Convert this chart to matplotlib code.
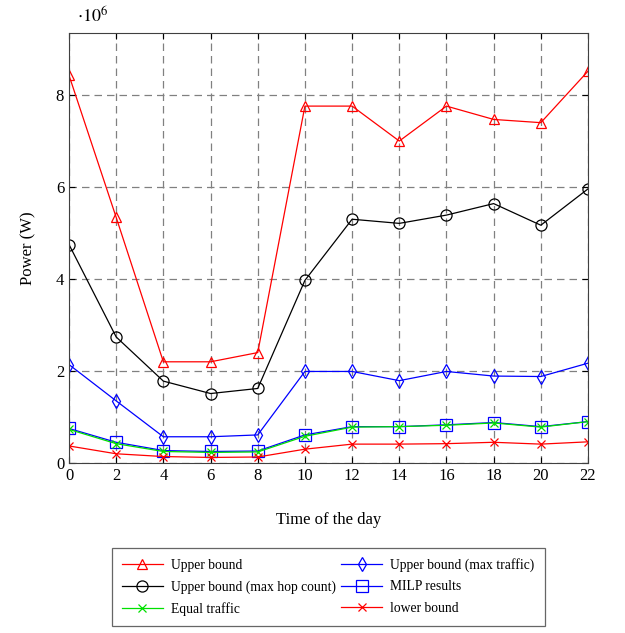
import matplotlib.pyplot as plt
import matplotlib.ticker as mticker
import numpy as np

plt.rcParams['font.family'] = ['Liberation Serif', 'DejaVu Serif']
plt.rcParams['mathtext.fontset'] = 'stix'

hours = [0, 2, 4, 6, 8, 10, 12, 14, 16, 18, 20, 22]
upper = [8.43, 5.34, 2.2, 2.2, 2.4, 7.76, 7.76, 7.0, 7.76, 7.47, 7.4, 8.52]
upper_hop = [4.75, 2.74, 1.78, 1.51, 1.62, 3.97, 5.30, 5.21, 5.39, 5.64, 5.17, 5.96]
upper_traffic = [2.14, 1.35, 0.57, 0.57, 0.61, 1.99, 1.99, 1.79, 1.99, 1.89, 1.88, 2.17]
milp = [0.75, 0.45, 0.27, 0.25, 0.26, 0.61, 0.79, 0.79, 0.83, 0.88, 0.79, 0.90]
equal = [0.73, 0.42, 0.25, 0.23, 0.24, 0.58, 0.78, 0.79, 0.82, 0.87, 0.78, 0.90]
lower = [0.37, 0.20, 0.14, 0.12, 0.13, 0.30, 0.41, 0.41, 0.42, 0.45, 0.41, 0.46]

scale = 1e6
fig = plt.figure(figsize=(6.25, 6.33), dpi=100)
ax = fig.add_axes([0.1104, 0.2686, 0.8304, 0.6793])

kw = dict(lw=0.9, markerfacecolor='none', markeredgewidth=0.9)
h_ub, = ax.plot(hours, np.array(upper) * scale, color='red', marker='^', ms=7, label='Upper bound', **kw)
h_tr, = ax.plot(hours, np.array(upper_traffic) * scale, color='blue', marker='d', ms=7, label='Upper bound (max traffic)', **kw)
h_hop, = ax.plot(hours, np.array(upper_hop) * scale, color='black', marker='o', ms=8, label='Upper bound (max hop count)', **kw)
h_milp, = ax.plot(hours, np.array(milp) * scale, color='blue', marker='s', ms=8, label='MILP results', **kw)
h_eq, = ax.plot(hours, np.array(equal) * scale, color='#00e000', marker='x', ms=6, label='Equal traffic', **kw)
h_lo, = ax.plot(hours, np.array(lower) * scale, color='red', marker='x', ms=6, label='lower bound', **kw)

ax.set_xlim(0, 22)
ax.set_ylim(0, 9.35e6)
ax.set_xticks(hours)
ax.set_yticks([0, 2e6, 4e6, 6e6, 8e6])
ax.yaxis.set_major_formatter(mticker.FuncFormatter(lambda v, p: '%d' % round(v / scale)))
ax.grid(True, linestyle=(0, (6, 4)), color='#808080', lw=0.9)
ax.tick_params(direction='in', top=True, right=True, labelsize=12, length=4)
for s in ax.spines.values():
    s.set_color('#404040')
ax.set_xlabel('Time of the day', fontsize=12, labelpad=20)
ax.set_ylabel('Power (W)', fontsize=12, labelpad=14)
ax.text(0.015, 1.015, r'$\cdot 10^6$', transform=ax.transAxes, fontsize=13, va='bottom')

# legend filled column by column, so order handles to read row by row
handles = [h_ub, h_hop, h_eq, h_tr, h_milp, h_lo]
leg = fig.legend(handles, [h.get_label() for h in handles], loc='center',
                 bbox_to_anchor=(0.525, 0.0727), ncol=2, fontsize=9.8, frameon=True,
                 fancybox=False, edgecolor='#404040', handlelength=3.0,
                 columnspacing=0.4, borderpad=0.75, labelspacing=0.62, handletextpad=0.6)
leg.get_frame().set_linewidth(0.9)

fig.savefig('out.png', dpi=100)
